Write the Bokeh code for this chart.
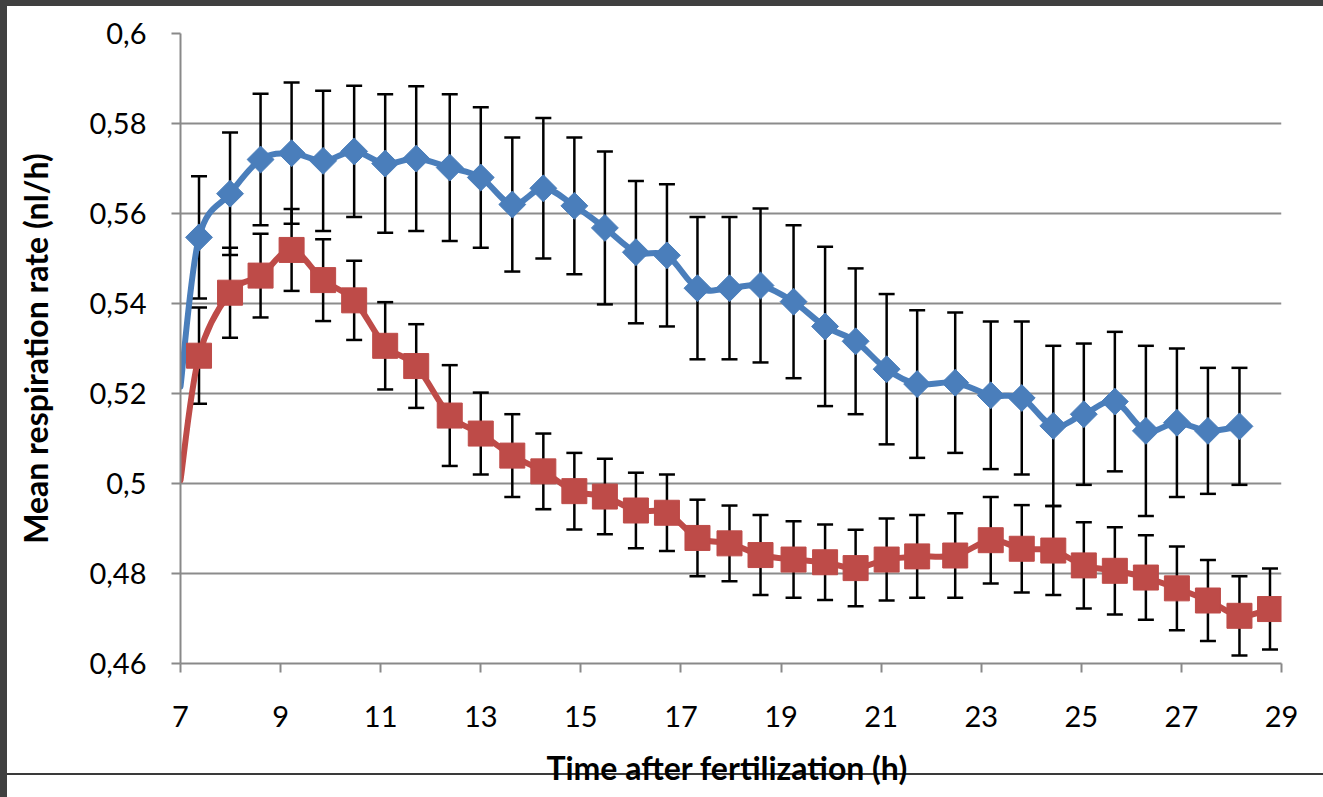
import math
from bokeh.plotting import figure
from bokeh.models import Range1d, FixedTicker, Whisker, TeeHead, ColumnDataSource
from bokeh.embed import file_html
from bokeh.resources import INLINE

# ---- data ----
times = [7.37, 7.99, 8.60, 9.22, 9.85, 10.47, 11.09, 11.71, 12.38, 13.00,
         13.63, 14.25, 14.87, 15.48, 16.10, 16.72, 17.33, 17.97, 18.59, 19.25,
         19.88, 20.49, 21.11, 21.72, 22.48, 23.19, 23.81, 24.44, 25.05, 25.67,
         26.29, 26.91, 27.53, 28.16, 28.77]

blue_mean = [0.5547, 0.5644, 0.5720, 0.5734, 0.5717, 0.5738, 0.5711, 0.5722, 0.5702, 0.5680,
             0.5620, 0.5656, 0.5617, 0.5568, 0.5514, 0.5507, 0.5434, 0.5434, 0.5440, 0.5404,
             0.5349, 0.5316, 0.5254, 0.5221, 0.5224, 0.5196, 0.5190, 0.5128, 0.5154, 0.5182,
             0.5117, 0.5135, 0.5117, 0.5127]
blue_err = [0.0136, 0.0136, 0.0146, 0.0157, 0.0156, 0.0146, 0.0154, 0.0161, 0.0163, 0.0156,
            0.0149, 0.0156, 0.0152, 0.0170, 0.0158, 0.0158, 0.0158, 0.0158, 0.0171, 0.0170,
            0.0177, 0.0162, 0.0167, 0.0164, 0.0156, 0.0164, 0.0170, 0.0178, 0.0157, 0.0155,
            0.0189, 0.0165, 0.0140, 0.0130]

red_mean = [0.5284, 0.5424, 0.5462, 0.5519, 0.5452, 0.5407, 0.5306, 0.5261, 0.5151, 0.5111,
            0.5062, 0.5027, 0.4983, 0.4971, 0.4940, 0.4935, 0.4879, 0.4867, 0.4841, 0.4831,
            0.4825, 0.4812, 0.4831, 0.4838, 0.4840, 0.4874, 0.4855, 0.4851, 0.4818, 0.4806,
            0.4791, 0.4767, 0.4740, 0.4706, 0.4721]
red_err = [0.0107, 0.0100, 0.0093, 0.0091, 0.0091, 0.0088, 0.0097, 0.0093, 0.0112, 0.0091,
           0.0092, 0.0084, 0.0085, 0.0084, 0.0084, 0.0085, 0.0085, 0.0084, 0.0089, 0.0085,
           0.0084, 0.0085, 0.0091, 0.0092, 0.0094, 0.0096, 0.0097, 0.0099, 0.0096, 0.0097,
           0.0094, 0.0093, 0.0090, 0.0088, 0.0090]

# where the smoothed lines enter the plot at the left edge
line_start_time = 7.0
blue_start = 0.5215
red_start = 0.5007

x_ticks = [7, 9, 11, 13, 15, 17, 19, 21, 23, 25, 27, 29]
y_ticks = [0.46, 0.48, 0.5, 0.52, 0.54, 0.56, 0.58, 0.6]
y_labels = ["0,46", "0,48", "0,5", "0,52", "0,54", "0,56", "0,58", "0,6"]

BLUE = "#4A7EBB"
RED = "#BE4B48"

p = figure(width=1323, height=797, output_backend="svg", toolbar_location=None,
           x_range=Range1d(7, 29), y_range=Range1d(0.46, 0.6),
           min_border_left=180, min_border_right=42, min_border_top=33,
           min_border_bottom=134)
p.border_fill_color = None
p.background_fill_color = "white"
p.outline_line_color = None
p.styles = {"background": "linear-gradient(#404040,#404040) 0 0/7px 100% no-repeat, "
                          "linear-gradient(#404040,#404040) 0 0/100% 6px no-repeat, "
                          "linear-gradient(#3a3a3a,#3a3a3a) 0 773px/100% 2px no-repeat, #ffffff"}

# axes
p.xaxis.ticker = FixedTicker(ticks=x_ticks)
p.yaxis.ticker = FixedTicker(ticks=y_ticks)
p.yaxis.major_label_overrides = dict(zip(y_ticks, y_labels))
p.xgrid.visible = False
p.ygrid.grid_line_color = "#8c8c8c"
p.ygrid.grid_line_width = 2
for ax in (p.xaxis, p.yaxis):
    ax.axis_line_color = "#898989"
    ax.axis_line_width = 2
    ax.major_tick_line_color = "#898989"
    ax.major_tick_line_width = 2
    ax.major_tick_in = 0
    ax.major_tick_out = 9
    ax.minor_tick_line_color = None
    ax.major_label_text_font = "Lato"
    ax.major_label_text_font_size = "29px"
    ax.major_label_text_color = "black"
    ax.axis_label_text_font = "Lato"
    ax.axis_label_text_font_style = "bold"
    ax.axis_label_text_font_size = "32px"
    ax.axis_label_text_color = "black"
p.xaxis.axis_label = "Time after fertilization  (h)"
p.yaxis.axis_label = "Mean respiration rate (nl/h)"
p.xaxis.major_label_standoff = 33
p.xaxis.axis_label_standoff = 18
p.yaxis.major_label_standoff = 25
p.yaxis.axis_label_standoff = 31

# error bars
bsrc = ColumnDataSource(dict(x=times[:len(blue_mean)],
                             lower=[m - e for m, e in zip(blue_mean, blue_err)],
                             upper=[m + e for m, e in zip(blue_mean, blue_err)]))
rsrc = ColumnDataSource(dict(x=times,
                             lower=[m - e for m, e in zip(red_mean, red_err)],
                             upper=[m + e for m, e in zip(red_mean, red_err)]))
for src in (bsrc, rsrc):
    w = Whisker(base="x", lower="lower", upper="upper", source=src,
                line_color="black", line_width=2.5,
                upper_head=TeeHead(size=16, line_color="black", line_width=2.5),
                lower_head=TeeHead(size=16, line_color="black", line_width=2.5))
    p.add_layout(w)


def smooth(xs, ys):
    n = len(xs)
    d = dict(x0=[], y0=[], x1=[], y1=[], cx0=[], cy0=[], cx1=[], cy1=[])
    for i in range(n - 1):
        xp, yp = (xs[i - 1], ys[i - 1]) if i > 0 else (xs[i], ys[i])
        xn, yn = (xs[i + 2], ys[i + 2]) if i + 2 < n else (xs[i + 1], ys[i + 1])
        d["x0"].append(xs[i]); d["y0"].append(ys[i])
        d["x1"].append(xs[i + 1]); d["y1"].append(ys[i + 1])
        d["cx0"].append(xs[i] + (xs[i + 1] - xp) / 6)
        d["cy0"].append(ys[i] + (ys[i + 1] - yp) / 6)
        d["cx1"].append(xs[i + 1] - (xn - xs[i]) / 6)
        d["cy1"].append(ys[i + 1] - (yn - ys[i]) / 6)
    return ColumnDataSource(d)


bx = [line_start_time] + times[:len(blue_mean)]
by = [blue_start] + blue_mean
rx = [line_start_time] + times
ry = [red_start] + red_mean
p.bezier(x0="x0", y0="y0", x1="x1", y1="y1", cx0="cx0", cy0="cy0", cx1="cx1", cy1="cy1",
         source=smooth(bx, by), line_color=BLUE, line_width=6, line_cap="round")
p.bezier(x0="x0", y0="y0", x1="x1", y1="y1", cx0="cx0", cy0="cy0", cx1="cx1", cy1="cy1",
         source=smooth(rx, ry), line_color=RED, line_width=6, line_cap="round")

p.scatter(times[:len(blue_mean)], blue_mean, marker="square", angle=math.pi / 4, size=19,
          fill_color=BLUE, line_color=BLUE, line_width=1)
p.scatter(times, red_mean, marker="square", size=25,
          fill_color=RED, line_color=RED, line_width=1)

open("out.html", "w").write(file_html(p, INLINE))
